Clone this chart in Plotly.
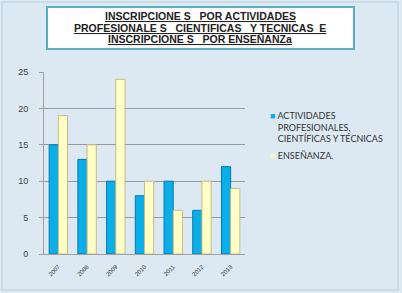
import plotly.graph_objects as go

years = ["2007", "2008", "2009", "2010", "2011", "2012", "2013"]
actividades = [15, 13, 10, 8, 10, 6, 12]
ensenanza = [19, 15, 24, 10, 6, 10, 9]
label_act = ["ACTIVIDADES", "PROFESIONALES,", "CIENTÍFICAS Y TÉCNICAS"]
label_ens = ["ENSEÑANZA."]
title_lines = ["INSCRIPCIONE S   POR ACTIVIDADES",
               "PROFESIONALE S   CIENTIFICAS   Y TECNICAS  E",
               "INSCRIPCIONE S   POR ENSEÑANZa"]

W, H = 402, 293
L, R, T, B = 44, 157, 72, 39
pw = W - L - R
ph = H - T - B


def px(x):
    return (x - L) / pw


def py(y):
    return (H - B - y) / ph


blue, blue_edge = "#0aaee8", "#0a78a8"
yel, yel_edge = "#ffffc6", "#c8bc86"


def legend_name(lines, color):
    sq = '<span style="color:%s">■</span> ' % color
    pad = '<span style="color:rgba(0,0,0,0)">■</span> '
    return "<br>".join((sq if i == 0 else pad) + t for i, t in enumerate(lines))


fig = go.Figure()
fig.add_bar(x=years, y=actividades, name=" ".join(label_act), showlegend=False,
            marker=dict(color=blue, line=dict(color=blue_edge, width=1)))
fig.add_bar(x=years, y=ensenanza, name=" ".join(label_ens), showlegend=False,
            marker=dict(color=yel, line=dict(color=yel_edge, width=1)))
# legend-only entries (symbol drawn as a coloured square in the label)
fig.add_scatter(x=[None], y=[None], mode="markers", name=legend_name(label_act, blue),
                marker=dict(size=1, opacity=0, color="rgba(0,0,0,0)"))
fig.add_scatter(x=[None], y=[None], mode="markers", name=legend_name(label_ens, "#f4f8c8"),
                marker=dict(size=1, opacity=0, color="rgba(0,0,0,0)"))

fig.update_layout(
    width=W, height=H,
    margin=dict(l=L, r=R, t=T, b=B),
    paper_bgcolor="#dce9f3", plot_bgcolor="rgba(0,0,0,0)",
    barmode="group", bargap=0.36, bargroupgap=0.0,
    font=dict(family="Liberation Sans, Arial, sans-serif", color="#404040"),
    showlegend=True,
    legend=dict(x=px(230), y=py(103), xref="paper", yref="paper",
                xanchor="left", yanchor="top",
                font=dict(family="Lato, Open Sans, sans-serif", size=9, color="#333333"),
                bgcolor="rgba(0,0,0,0)", itemwidth=30, tracegroupgap=3,
                traceorder="normal", valign="top"),
    xaxis=dict(showgrid=False, showline=True, linecolor="#a0a0a0", linewidth=1,
               tickangle=-45, tickfont=dict(size=6, color="#333333"),
               ticks="", ticklabelstandoff=6, automargin=False),
    yaxis=dict(range=[0, 25], dtick=5, showgrid=True, gridcolor="#9a9a9a", gridwidth=1,
               showline=True, linecolor="#a0a0a0", linewidth=1,
               zeroline=False, tickfont=dict(size=9, color="#404040"),
               ticks="outside", ticklen=4, tickcolor="#a0a0a0",
               ticklabelstandoff=9, automargin=False),
    shapes=[
        dict(type="rect", xref="paper", yref="paper", layer="below",
             x0=px(2), x1=px(398), y0=py(290), y1=py(2),
             line=dict(color="#c4d8e6", width=1.5), fillcolor="rgba(0,0,0,0)"),
        dict(type="rect", xref="paper", yref="paper",
             x0=px(47), x1=px(354), y0=py(49), y1=py(7),
             line=dict(color="#5aafbf", width=2), fillcolor="#ffffff"),
    ],
)

for i, line in enumerate(title_lines):
    fig.add_annotation(xref="paper", yref="paper", x=px(200), y=py(16 + i * 11.5),
                       text="<b><u>" + line + "</u></b>", showarrow=False,
                       xanchor="center", yanchor="middle",
                       font=dict(family="Liberation Sans, Arial, sans-serif", size=10.5,
                                 color="#222222"))

fig.write_html("out.html")
